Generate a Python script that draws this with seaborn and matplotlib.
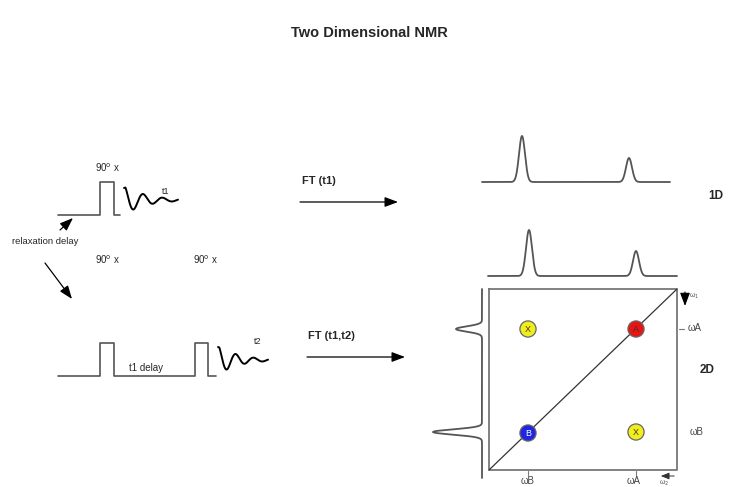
import numpy as np
import pandas as pd
import matplotlib
matplotlib.use("Agg")
import matplotlib.pyplot as plt
import seaborn as sns

sns.set_style("white")
plt.rcParams['font.family'] = ['Liberation Sans', 'DejaVu Sans']

# ---- data ----
peak_pos_1d = [522, 629]          # x of 1D peaks (px)
peak_top_1d = [136, 158]          # y of peak tops
peak_pos_2d_top = [529, 636]
peak_top_2d_top = [230, 251]
peak_pos_2d_left = [329, 432]     # y of left projection peaks
peak_tip_2d_left = [456, 433]     # x of left peak tips
cross_x = [528, 636, 528, 636]
cross_y = [329, 329, 433, 432]
cross_lbl = ["X", "A", "B", "X"]

fig = plt.figure(figsize=(7.38, 4.87), dpi=100)
ax = fig.add_axes([0, 0, 1, 1])
ax.set_xlim(0, 738)
ax.set_ylim(487, 0)
ax.axis("off")

gray = "#555555"

def line(xs, ys, color=gray, lw=1.2):
    sns.lineplot(x=xs, y=ys, ax=ax, color=color, linewidth=lw, sort=False, estimator=None)

def arrow(x0, y0, x1, y1, lw=0.9):
    ax.annotate("", xy=(x1, y1), xytext=(x0, y0),
                arrowprops=dict(arrowstyle="-|>,head_length=0.8,head_width=0.3", color="black", lw=lw, shrinkA=0, shrinkB=0))

def fid(x0, length, yc, ystart):
    t = np.linspace(0, 1, 300)
    fx = x0 + length * t
    fy = yc + 15 * np.exp(-2.6 * t) * np.cos(2 * np.pi * 2.8 * t + np.pi * 1.0)
    n = 8
    fy[:n] = np.linspace(ystart, fy[n], n)
    return list(fx), list(fy)

# title
ax.text(369, 33, "Two Dimensional NMR", ha="center", va="center", fontsize=10.5, fontweight="bold")

# ---- top pulse sequence ----
line([58, 100, 100, 114, 114, 120], [215, 215, 182, 182, 215, 215])
fx, fy = fid(124, 54, 200, 188)
line(fx, fy, color="black", lw=1.4)
ax.text(162, 191, "t1", fontsize=6.5, ha="left", va="center")
ax.text(95, 168, r"90$^{\mathrm{o}}$ x", fontsize=7, ha="left", va="center")

arrow(60, 230, 73, 218)
ax.text(12, 241, "relaxation delay", fontsize=6.8, ha="left", va="center")
arrow(45, 263, 72, 299)
ax.text(95, 260, r"90$^{\mathrm{o}}$ x", fontsize=7, ha="left", va="center")
ax.text(193, 260, r"90$^{\mathrm{o}}$ x", fontsize=7, ha="left", va="center")

# ---- bottom pulse sequence ----
line([58, 100, 100, 114, 114, 195, 195, 208, 208, 216],
     [376, 376, 343, 343, 376, 376, 343, 343, 376, 376])
fx2, fy2 = fid(218, 50, 360, 347)
line(fx2, fy2, color="black", lw=1.4)
ax.text(254, 341, "t2", fontsize=6.5, ha="left", va="center")
ax.text(129, 368, "t1 delay", fontsize=7, ha="left", va="center")

# ---- FT arrows ----
ax.text(302, 181, "FT (t1)", fontsize=8, fontweight="bold", ha="left", va="center")
arrow(300, 202, 398, 202)
ax.text(308, 336, "FT (t1,t2)", fontsize=8, fontweight="bold", ha="left", va="center")
arrow(307, 357, 405, 357)

# ---- 1D spectrum ----
def spectrum(x0, x1, base, pos, tops, w=3.0):
    xs = np.linspace(x0, x1, 800)
    ys = np.full_like(xs, base, dtype=float)
    for p, tp in zip(pos, tops):
        ys -= (base - tp) * np.exp(-0.5 * ((xs - p) / w) ** 2)
    return xs, ys

xs, ys = spectrum(482, 670, 182, peak_pos_1d, peak_top_1d)
line(list(xs), list(ys), color=gray, lw=1.3)
ax.text(708, 196, "1D", fontsize=8.5, fontweight="bold", ha="left", va="center")

# ---- 2D top projection ----
xs, ys = spectrum(488, 677, 276, peak_pos_2d_top, peak_top_2d_top)
line(list(xs), list(ys), color=gray, lw=1.3)

# left projection (peaks pointing left)
yy, xx = spectrum(289, 478, 482, peak_pos_2d_left, peak_tip_2d_left, w=2.6)
line(list(xx), list(yy), color=gray, lw=1.3)

# box
line([489, 677, 677, 489, 489], [289, 289, 470, 470, 289], color="#777777", lw=1.3)
line([489, 677], [470, 289], color="#333333", lw=0.9)

df = pd.DataFrame({"x": cross_x, "y": cross_y, "lbl": cross_lbl})
sns.scatterplot(data=df, x="x", y="y", hue="lbl", palette={"X": "#f2ee1c", "A": "#e81414", "B": "#1f25e0"},
                s=135, edgecolor="#666666", linewidth=0.9, legend=False, ax=ax, zorder=5)
for _, r in df.iterrows():
    ax.text(r.x, r.y + 0.5, r.lbl, fontsize=6.5, ha="center", va="center", zorder=6,
            color="white" if r.lbl == "B" else "#333333")

# right axis labels
line([679, 684], [329, 329], color="#777777", lw=0.8)
ax.text(688, 328, "ωA", fontsize=7, color="#444444", ha="left", va="center")
ax.text(690, 432, "ωB", fontsize=7, color="#444444", ha="left", va="center")
arrow(685, 292, 685, 306, lw=0.8)
ax.text(689, 296, "ω$_1$", fontsize=5, color="#555555", ha="left", va="center")

# bottom labels
line([528, 528], [471, 475], color="#777777", lw=0.8)
line([636, 636], [471, 475], color="#777777", lw=0.8)
ax.text(528, 481, "ωB", fontsize=7, color="#444444", ha="center", va="center")
ax.text(634, 481, "ωA", fontsize=7, color="#444444", ha="center", va="center")
ax.annotate("", xy=(658, 476), xytext=(677, 476),
            arrowprops=dict(arrowstyle="-|>,head_length=0.5,head_width=0.2", color="#333333", lw=0.7))
ax.text(664, 483, "ω$_2$", fontsize=5, color="#555555", ha="center", va="center")
ax.text(700, 370, "2D", fontsize=8.5, fontweight="bold", ha="left", va="center")

fig.savefig("out.png", dpi=100)
